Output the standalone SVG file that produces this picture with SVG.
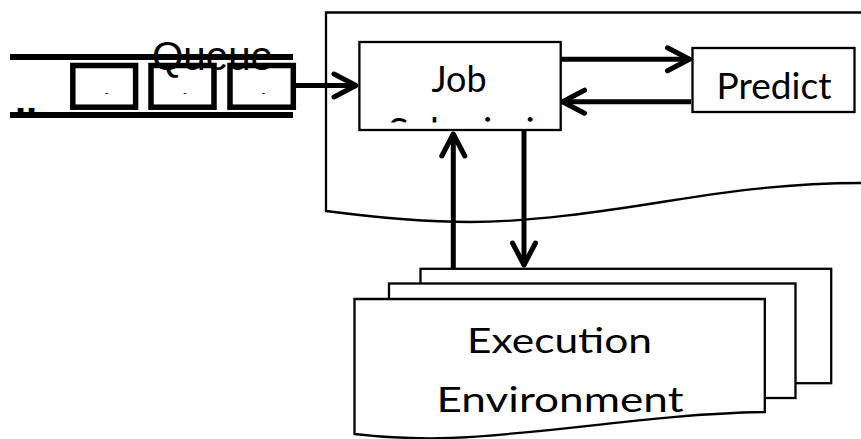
<svg xmlns="http://www.w3.org/2000/svg" width="861" height="439" viewBox="0 0 861 439">
<style>
.box{fill:#fff;stroke:#000;stroke-width:2.3}
.qbox{fill:none;stroke:#000;stroke-width:5.5}
.qline{stroke:#000;stroke-width:6;fill:none}
.conn{stroke:#000;stroke-width:5;fill:none}
.lbl{font-family:Lato,"Open Sans",sans-serif;fill:#000}
.q{font-family:"Liberation Sans",Arial,sans-serif;fill:#000}
</style>
<defs>
<marker id="arr" markerUnits="userSpaceOnUse" viewBox="-28 -16 32 32" markerWidth="32" markerHeight="32" refX="0" refY="0" orient="auto" overflow="visible">
<path d="M-22,-11.5 L0,0 L-22,11.5" fill="none" stroke="#000" stroke-width="5" stroke-linecap="round" stroke-linejoin="round"/>
</marker>
<clipPath id="jobclip"><rect x="359.5" y="42" width="201" height="80.5"/></clipPath>
</defs>

<g id="system">
<path class="box" d="M861,12.5 H326 V211 C380,218 430,222 470,222 C530,222 600,212 665,201.5 C730,191 790,183 861,183"/>
</g>

<g id="queue">
<text class="q" x="212.5" y="70.3" font-size="40" text-anchor="middle" textLength="121" lengthAdjust="spacingAndGlyphs">Queue</text>
<line class="qline" x1="10" y1="57" x2="293" y2="57"/>
<line class="qline" x1="10" y1="115" x2="293" y2="115"/>
<text class="q" x="15" y="114" font-size="40" font-weight="bold">..</text>
<rect class="qbox" x="72.8" y="65.5" width="62.8" height="41.7"/>
<rect class="qbox" x="151" y="65.5" width="63" height="41.7"/>
<rect class="qbox" x="230" y="65.5" width="63.3" height="41.7"/>
<text class="q" x="106.7" y="96" font-size="10" text-anchor="middle">-</text>
<text class="q" x="185" y="96" font-size="10" text-anchor="middle">-</text>
<text class="q" x="263.3" y="96" font-size="10" text-anchor="middle">-</text>
</g>

<g id="job-submission">
<rect class="box" x="359.4" y="42" width="201.3" height="88"/>
<g clip-path="url(#jobclip)">
<text class="lbl" x="459" y="91.7" font-size="37" text-anchor="middle" textLength="55" lengthAdjust="spacingAndGlyphs">Job</text>
<text class="lbl" x="388" y="143.5" font-size="37" textLength="190" lengthAdjust="spacingAndGlyphs">Submission</text>
</g>
</g>

<g id="predict">
<rect class="box" x="692.5" y="48" width="162" height="64"/>
<text class="lbl" x="774" y="98.5" font-size="37" text-anchor="middle" textLength="115" lengthAdjust="spacingAndGlyphs">Predict</text>
</g>

<g id="execution-environment">
<rect class="box" x="420.5" y="268.8" width="410.7" height="114.4" stroke-width="2.7"/>
<rect class="box" x="389" y="283.5" width="406.5" height="114.5" stroke-width="2.7"/>
<path class="box" stroke-width="2.7" d="M354.5,434 V299 H764.8 V412 C650,414 550,434 450,438 C420,439 390,438 354.5,434 Z"/>
<text class="lbl" x="559.5" y="353.3" font-size="35" text-anchor="middle" textLength="185" lengthAdjust="spacingAndGlyphs">Execution</text>
<text class="lbl" x="560" y="411.7" font-size="35" text-anchor="middle" textLength="247" lengthAdjust="spacingAndGlyphs">Environment</text>
</g>

<g id="connectors">
<line class="conn" x1="296" y1="85.5" x2="356" y2="85.5" marker-end="url(#arr)"/>
<line class="conn" x1="561" y1="59.3" x2="689.5" y2="59.3" marker-end="url(#arr)"/>
<line class="conn" x1="691" y1="101.7" x2="562.5" y2="101.7" marker-end="url(#arr)"/>
<line class="conn" x1="453.3" y1="268" x2="453.3" y2="134" marker-end="url(#arr)"/>
<line class="conn" x1="524" y1="131" x2="524" y2="265" marker-end="url(#arr)"/>
</g>
</svg>
